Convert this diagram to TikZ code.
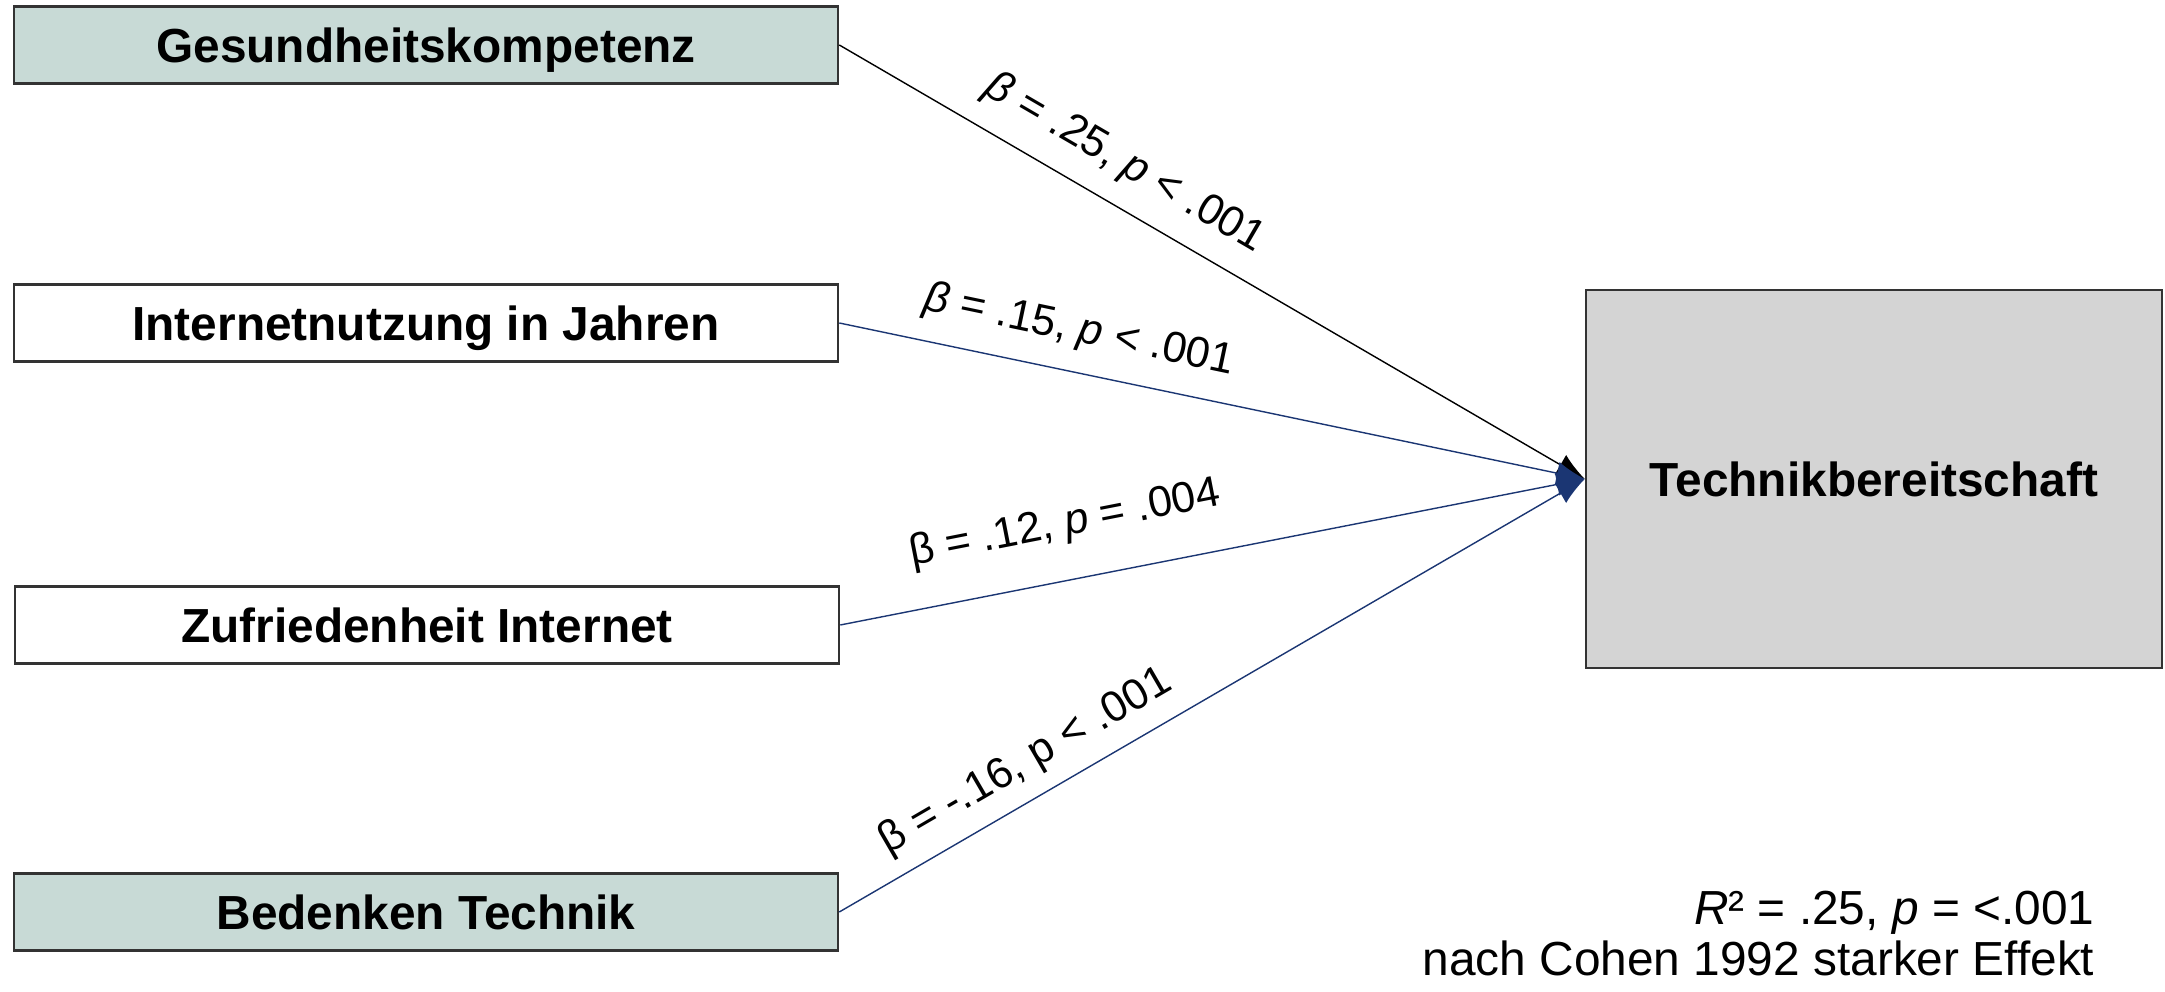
\documentclass[tikz,border=0pt]{standalone}
\usepackage{fontspec}
\setmainfont{Liberation Sans}
\usetikzlibrary{arrows.meta}

\definecolor{boxteal}{HTML}{C8DAD6}
\definecolor{boxgrey}{HTML}{D4D4D4}
\definecolor{pathnavy}{HTML}{1B3673}

\begin{document}
\begin{tikzpicture}[x = 0.01cm, y = -0.01cm,
	> = {Latex[length = 8pt, width = 6.5pt]},
	font = \fontsize{13.6}{16}\selectfont,
	predictor/.style = {draw = black!80, line width = 0.6pt, minimum width = 8.24cm, minimum height = 0.77cm, text depth = 0pt, font = \fontsize{13.6}{16}\selectfont\bfseries},
	coef/.style = {sloped, above = #1, text = black, font = \fontsize{12.3}{14}\selectfont}]

	% Frame
	
	\useasboundingbox (0, 0) rectangle (2165, 992);

	% Predictors
	
	\node [predictor, fill = boxteal] (gesund) at (426, 45) {Gesundheitskompetenz};
	\node [predictor] (internet) at (426, 323) {Internetnutzung in Jahren};
	\node [predictor] (zufrieden) at (427, 625) {Zufriedenheit Internet};
	\node [predictor, fill = boxteal] (bedenken) at (426, 912) {Bedenken Technik};

	% Criterion
	
	\node [predictor, fill = boxgrey, minimum width = 5.76cm, minimum height = 3.78cm] (technik) at (1874, 479) {Technikbereitschaft};

	% Paths with coefficients
	
	\draw [->] (gesund.east) -- node [coef = 2.5pt, pos = 0.355] {\textit{β} = .25, \textit{p} < .001} (technik.west);
	\draw [->, pathnavy] (internet.east) -- node [coef = 2.5pt, pos = 0.31] {\textit{β} = .15, \textit{p} < .001} (technik.west);
	\draw [->, pathnavy] (zufrieden.east) -- node [coef = 6.5pt, pos = 0.316] {β = .12, \textit{p} = .004} (technik.west);
	\draw [->, pathnavy] (bedenken.east) -- node [coef = 1pt, pos = 0.274] {β = -.16, p < .001} (technik.west);

	% Model fit
	
	\node [anchor = base east, inner sep = 0pt] (rsq) at (2095, 925) {\textit{R}² = .25, \textit{p} = <.001};
	\node [anchor = base east, inner sep = 0pt] (cohen) at (2095, 976) {nach Cohen 1992 starker Effekt};

\end{tikzpicture}
\end{document}
